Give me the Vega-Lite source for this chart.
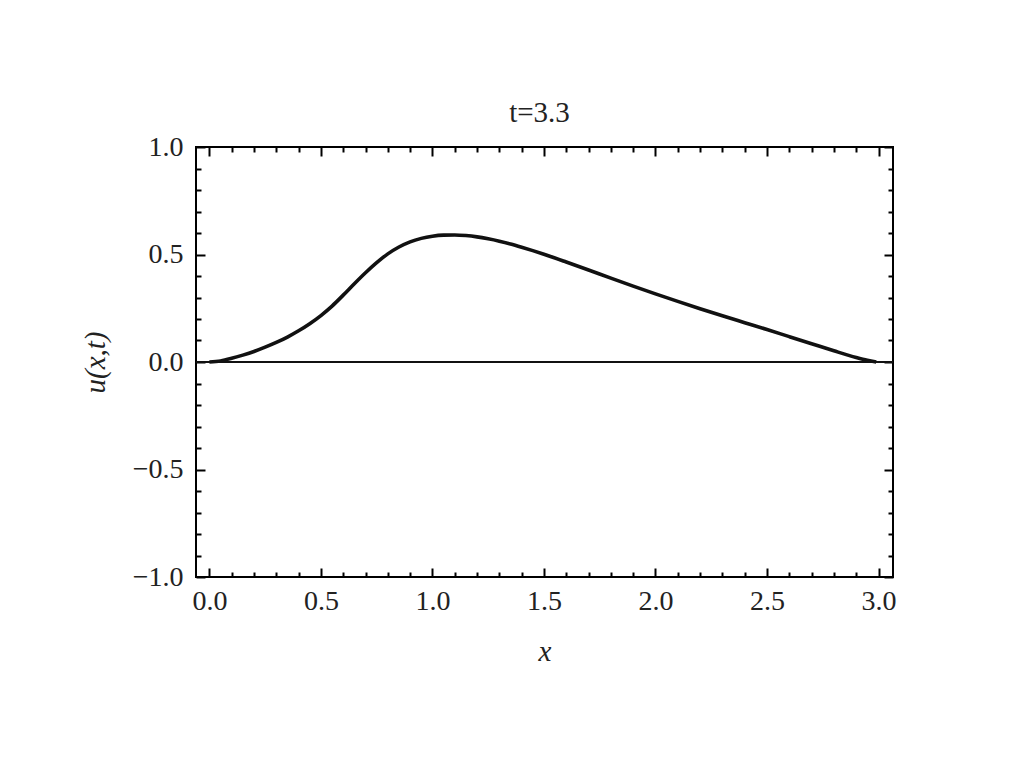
{
  "$schema": "https://vega.github.io/schema/vega-lite/v6.json",
  "autosize": "none",
  "padding": {"left": 196, "top": 147, "right": 131, "bottom": 191},
  "width": 697,
  "height": 430,
  "background": "white",
  "config": {
    "view": {"stroke": "black", "strokeWidth": 2},
    "font": "Liberation Serif"
  },
  "title": {
    "text": "t=3.3",
    "font": "Liberation Serif",
    "fontSize": 29,
    "fontWeight": "normal",
    "color": "#222",
    "offset": 5,
    "dx": -5,
    "anchor": "middle"
  },
  "datasets": {
    "curve": [
      {"x": 0.0, "u": 0.0},
      {"x": 0.05, "u": 0.005},
      {"x": 0.1, "u": 0.017},
      {"x": 0.15, "u": 0.032},
      {"x": 0.2, "u": 0.049},
      {"x": 0.25, "u": 0.069},
      {"x": 0.3, "u": 0.091},
      {"x": 0.35, "u": 0.116},
      {"x": 0.4, "u": 0.145},
      {"x": 0.45, "u": 0.178},
      {"x": 0.5, "u": 0.216},
      {"x": 0.55, "u": 0.26},
      {"x": 0.6, "u": 0.311},
      {"x": 0.65, "u": 0.364},
      {"x": 0.7, "u": 0.415},
      {"x": 0.75, "u": 0.462},
      {"x": 0.8, "u": 0.503},
      {"x": 0.85, "u": 0.535},
      {"x": 0.9, "u": 0.559},
      {"x": 0.95, "u": 0.575},
      {"x": 1.0, "u": 0.585},
      {"x": 1.05, "u": 0.59},
      {"x": 1.1, "u": 0.591},
      {"x": 1.15, "u": 0.588},
      {"x": 1.2, "u": 0.582},
      {"x": 1.25, "u": 0.573},
      {"x": 1.3, "u": 0.562},
      {"x": 1.35, "u": 0.549},
      {"x": 1.4, "u": 0.534},
      {"x": 1.45, "u": 0.518},
      {"x": 1.5, "u": 0.501},
      {"x": 1.6, "u": 0.465},
      {"x": 1.7, "u": 0.428},
      {"x": 1.8, "u": 0.39},
      {"x": 1.9, "u": 0.353},
      {"x": 2.0, "u": 0.317},
      {"x": 2.1, "u": 0.282},
      {"x": 2.2, "u": 0.248},
      {"x": 2.3, "u": 0.215},
      {"x": 2.4, "u": 0.183},
      {"x": 2.5, "u": 0.151},
      {"x": 2.6, "u": 0.118},
      {"x": 2.7, "u": 0.085},
      {"x": 2.8, "u": 0.052},
      {"x": 2.9, "u": 0.021},
      {"x": 2.95, "u": 0.008},
      {"x": 2.99, "u": 0.0}
    ],
    "zero": [{"u": 0}]
  },
  "layer": [
    {
      "data": {"name": "curve"},
      "mark": {"type": "line", "color": "#111", "strokeWidth": 3.6, "interpolate": "monotone"},
      "encoding": {
        "x": {
          "field": "x", "type": "quantitative",
          "scale": {"domain": [-0.06, 3.065], "nice": false, "zero": false},
          "axis": {
            "orient": "bottom",
            "title": "x",
            "titleFont": "Liberation Serif",
            "titleFontStyle": "italic",
            "titleFontWeight": "normal",
            "titleFontSize": 29,
            "titleColor": "#222",
            "titlePadding": 18,
            "values": [0,0.1,0.2,0.3,0.4,0.5,0.6,0.7,0.8,0.9,1,1.1,1.2,1.3,1.4,1.5,1.6,1.7,1.8,1.9,2,2.1,2.2,2.3,2.4,2.5,2.6,2.7,2.8,2.9,3],
            "labelExpr": "abs(datum.value*2 - round(datum.value*2)) < 0.001 ? format(datum.value, '.1f') : ''",
            "labelFont": "Liberation Serif",
            "labelFontSize": 28,
            "labelColor": "#222",
            "labelPadding": 19,
            "labelFlush": false,
            "labelOverlap": false,
            "domain": false,
            "grid": false,
            "tickColor": "black",
            "tickWidth": 2,
            "tickSize": {"condition": {"test": "abs(datum.value*2 - round(datum.value*2)) < 0.001", "value": -9}, "value": -5}
          }
        },
        "y": {
          "field": "u", "type": "quantitative",
          "scale": {"domain": [-1, 1], "nice": false},
          "axis": {
            "orient": "left",
            "title": "u(x,t)",
            "titleFont": "Liberation Serif",
            "titleFontStyle": "italic",
            "titleFontWeight": "normal",
            "titleFontSize": 29,
            "titleColor": "#222",
            "titlePadding": 22,
            "values": [-1,-0.9,-0.8,-0.7,-0.6,-0.5,-0.4,-0.3,-0.2,-0.1,0,0.1,0.2,0.3,0.4,0.5,0.6,0.7,0.8,0.9,1],
            "labelExpr": "abs(datum.value*2 - round(datum.value*2)) < 0.001 ? replace(format(datum.value, '.1f'), '-', '\u2212') : ''",
            "labelFont": "Liberation Serif",
            "labelFontSize": 28,
            "labelColor": "#222",
            "labelPadding": 22,
            "labelFlush": false,
            "labelOverlap": false,
            "domain": false,
            "grid": false,
            "tickColor": "black",
            "tickWidth": 2,
            "tickSize": {"condition": {"test": "abs(datum.value*2 - round(datum.value*2)) < 0.001", "value": -9}, "value": -5}
          }
        }
      }
    },
    {
      "data": {"name": "zero"},
      "mark": {"type": "rule", "color": "#111", "strokeWidth": 2},
      "encoding": {
        "y": {
          "field": "u", "type": "quantitative",
          "axis": {
            "orient": "right",
            "title": null,
            "labels": false,
            "values": [-1,-0.9,-0.8,-0.7,-0.6,-0.5,-0.4,-0.3,-0.2,-0.1,0,0.1,0.2,0.3,0.4,0.5,0.6,0.7,0.8,0.9,1],
            "domain": false,
            "grid": false,
            "tickColor": "black",
            "tickWidth": 2,
            "tickSize": {"condition": {"test": "abs(datum.value*2 - round(datum.value*2)) < 0.001", "value": -9}, "value": -5}
          }
        }
      }
    },
    {
      "data": {"name": "curve"},
      "mark": {"type": "point", "opacity": 0},
      "encoding": {
        "x": {
          "field": "x", "type": "quantitative",
          "axis": {
            "orient": "top",
            "title": null,
            "labels": false,
            "values": [0,0.1,0.2,0.3,0.4,0.5,0.6,0.7,0.8,0.9,1,1.1,1.2,1.3,1.4,1.5,1.6,1.7,1.8,1.9,2,2.1,2.2,2.3,2.4,2.5,2.6,2.7,2.8,2.9,3],
            "domain": false,
            "grid": false,
            "tickColor": "black",
            "tickWidth": 2,
            "tickSize": {"condition": {"test": "abs(datum.value*2 - round(datum.value*2)) < 0.001", "value": -9}, "value": -5}
          }
        },
        "y": {"field": "u", "type": "quantitative", "axis": null}
      }
    }
  ],
  "resolve": {"axis": {"x": "independent", "y": "independent"}}
}
